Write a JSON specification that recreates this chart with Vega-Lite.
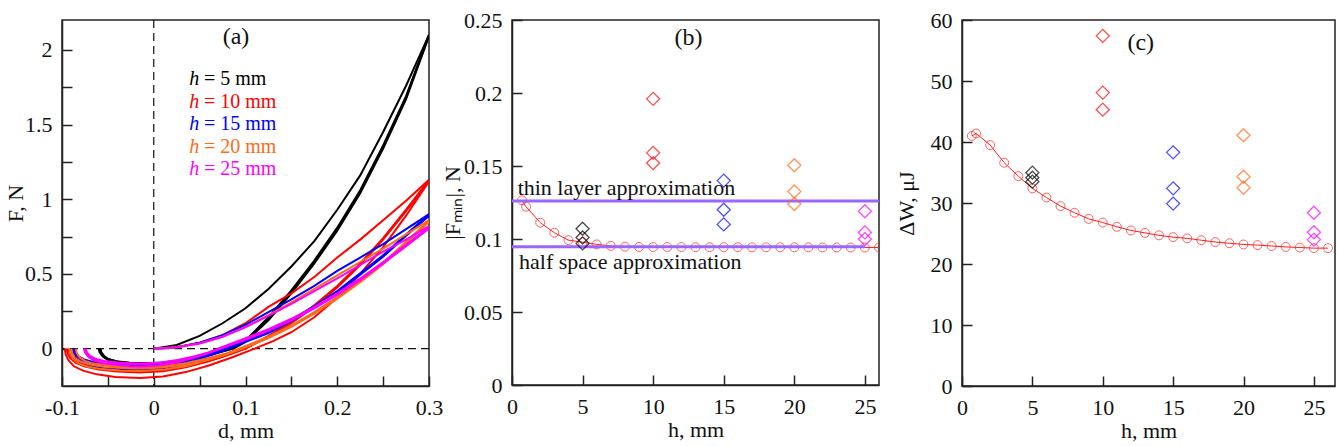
{
  "$schema": "https://vega.github.io/schema/vega-lite/v6.json",
  "background": "white",
  "padding": {"left": 3, "top": 8, "right": 0, "bottom": 0},
  "bounds": "flush",
  "spacing": 83,
  "config": {
    "font": "Liberation Serif",
    "view": {"stroke": "#222", "strokeWidth": 1.5},
    "axis": {
      "labelFont": "Liberation Serif", "labelFontSize": 22, "labelColor": "#111",
      "titleFont": "Liberation Serif", "titleFontSize": 22, "titleFontWeight": "normal", "titleColor": "#111",
      "domainColor": "#222", "domainWidth": 1.5, "tickColor": "#222", "tickWidth": 1.5,
      "tickSize": -10, "labelPadding": 21, "grid": false, "labelFlush": false, "labelOverlap": false
    },
    "axisX": {"titlePadding": 2},
    "axisY": {"labelPadding": 20}
  },
  "datasets": {
    "curves": [
      {"g":5,"id":"5u","d":0,"F":0},{"g":5,"id":"5u","d":0.025,"F":0.025},{"g":5,"id":"5u","d":0.05,"F":0.085},{"g":5,"id":"5u","d":0.075,"F":0.17},{"g":5,"id":"5u","d":0.1,"F":0.27},{"g":5,"id":"5u","d":0.125,"F":0.4},{"g":5,"id":"5u","d":0.15,"F":0.55},{"g":5,"id":"5u","d":0.175,"F":0.72},{"g":5,"id":"5u","d":0.2,"F":0.93},{"g":5,"id":"5u","d":0.225,"F":1.16},{"g":5,"id":"5u","d":0.25,"F":1.45},{"g":5,"id":"5u","d":0.275,"F":1.76},{"g":5,"id":"5u","d":0.3,"F":2.1},
      {"g":5,"id":"5a","d":-0.059,"F":0},{"g":5,"id":"5a","d":-0.058,"F":-0.027},{"g":5,"id":"5a","d":-0.055,"F":-0.054},{"g":5,"id":"5a","d":-0.05,"F":-0.075},{"g":5,"id":"5a","d":-0.04,"F":-0.093},{"g":5,"id":"5a","d":-0.025,"F":-0.104},{"g":5,"id":"5a","d":-0.01,"F":-0.107},{"g":5,"id":"5a","d":0.01,"F":-0.102},{"g":5,"id":"5a","d":0.03,"F":-0.086},{"g":5,"id":"5a","d":0.05,"F":-0.059},{"g":5,"id":"5a","d":0.07,"F":-0.027},{"g":5,"id":"5a","d":0.087,"F":0},{"g":5,"id":"5a","d":0.1,"F":0.045},{"g":5,"id":"5a","d":0.125,"F":0.19},{"g":5,"id":"5a","d":0.15,"F":0.37},{"g":5,"id":"5a","d":0.175,"F":0.57},{"g":5,"id":"5a","d":0.2,"F":0.79},{"g":5,"id":"5a","d":0.225,"F":1.04},{"g":5,"id":"5a","d":0.25,"F":1.34},{"g":5,"id":"5a","d":0.275,"F":1.67},{"g":5,"id":"5a","d":0.3,"F":2.09},
      {"g":5,"id":"5b","d":-0.058,"F":0},{"g":5,"id":"5b","d":-0.057,"F":-0.025},{"g":5,"id":"5b","d":-0.054,"F":-0.05},{"g":5,"id":"5b","d":-0.049,"F":-0.071},{"g":5,"id":"5b","d":-0.039,"F":-0.088},{"g":5,"id":"5b","d":-0.024,"F":-0.098},{"g":5,"id":"5b","d":-0.01,"F":-0.101},{"g":5,"id":"5b","d":0.01,"F":-0.096},{"g":5,"id":"5b","d":0.03,"F":-0.081},{"g":5,"id":"5b","d":0.05,"F":-0.056},{"g":5,"id":"5b","d":0.07,"F":-0.025},{"g":5,"id":"5b","d":0.085,"F":0},{"g":5,"id":"5b","d":0.1,"F":0.05},{"g":5,"id":"5b","d":0.125,"F":0.2},{"g":5,"id":"5b","d":0.15,"F":0.38},{"g":5,"id":"5b","d":0.175,"F":0.58},{"g":5,"id":"5b","d":0.2,"F":0.8},{"g":5,"id":"5b","d":0.225,"F":1.05},{"g":5,"id":"5b","d":0.25,"F":1.35},{"g":5,"id":"5b","d":0.275,"F":1.68},{"g":5,"id":"5b","d":0.3,"F":2.1},
      {"g":5,"id":"5c","d":-0.06,"F":0},{"g":5,"id":"5c","d":-0.059,"F":-0.024},{"g":5,"id":"5c","d":-0.056,"F":-0.049},{"g":5,"id":"5c","d":-0.051,"F":-0.068},{"g":5,"id":"5c","d":-0.041,"F":-0.084},{"g":5,"id":"5c","d":-0.026,"F":-0.094},{"g":5,"id":"5c","d":-0.01,"F":-0.097},{"g":5,"id":"5c","d":0.01,"F":-0.092},{"g":5,"id":"5c","d":0.03,"F":-0.078},{"g":5,"id":"5c","d":0.05,"F":-0.053},{"g":5,"id":"5c","d":0.07,"F":-0.024},{"g":5,"id":"5c","d":0.084,"F":0},{"g":5,"id":"5c","d":0.1,"F":0.055},{"g":5,"id":"5c","d":0.125,"F":0.21},{"g":5,"id":"5c","d":0.15,"F":0.39},{"g":5,"id":"5c","d":0.175,"F":0.59},{"g":5,"id":"5c","d":0.2,"F":0.81},{"g":5,"id":"5c","d":0.225,"F":1.06},{"g":5,"id":"5c","d":0.25,"F":1.36},{"g":5,"id":"5c","d":0.275,"F":1.69},{"g":5,"id":"5c","d":0.3,"F":2.1},
      {"g":10,"id":"10u","d":0,"F":0},{"g":10,"id":"10u","d":0.025,"F":0.01},{"g":10,"id":"10u","d":0.05,"F":0.04},{"g":10,"id":"10u","d":0.075,"F":0.09},{"g":10,"id":"10u","d":0.1,"F":0.17},{"g":10,"id":"10u","d":0.125,"F":0.28},{"g":10,"id":"10u","d":0.15,"F":0.37},{"g":10,"id":"10u","d":0.175,"F":0.48},{"g":10,"id":"10u","d":0.2,"F":0.61},{"g":10,"id":"10u","d":0.225,"F":0.73},{"g":10,"id":"10u","d":0.25,"F":0.86},{"g":10,"id":"10u","d":0.275,"F":0.99},{"g":10,"id":"10u","d":0.3,"F":1.13},
      {"g":10,"id":"10a","d":-0.097,"F":0},{"g":10,"id":"10a","d":-0.096,"F":-0.039},{"g":10,"id":"10a","d":-0.093,"F":-0.078},{"g":10,"id":"10a","d":-0.087,"F":-0.118},{"g":10,"id":"10a","d":-0.077,"F":-0.147},{"g":10,"id":"10a","d":-0.062,"F":-0.172},{"g":10,"id":"10a","d":-0.042,"F":-0.189},{"g":10,"id":"10a","d":-0.015,"F":-0.196},{"g":10,"id":"10a","d":0.01,"F":-0.186},{"g":10,"id":"10a","d":0.035,"F":-0.157},{"g":10,"id":"10a","d":0.06,"F":-0.113},{"g":10,"id":"10a","d":0.085,"F":-0.059},{"g":10,"id":"10a","d":0.11,"F":0},{"g":10,"id":"10a","d":0.13,"F":0.05},{"g":10,"id":"10a","d":0.15,"F":0.11},{"g":10,"id":"10a","d":0.175,"F":0.21},{"g":10,"id":"10a","d":0.2,"F":0.34},{"g":10,"id":"10a","d":0.225,"F":0.5},{"g":10,"id":"10a","d":0.25,"F":0.68},{"g":10,"id":"10a","d":0.275,"F":0.89},{"g":10,"id":"10a","d":0.3,"F":1.12},
      {"g":10,"id":"10b","d":-0.095,"F":0},{"g":10,"id":"10b","d":-0.094,"F":-0.032},{"g":10,"id":"10b","d":-0.091,"F":-0.064},{"g":10,"id":"10b","d":-0.085,"F":-0.095},{"g":10,"id":"10b","d":-0.075,"F":-0.119},{"g":10,"id":"10b","d":-0.06,"F":-0.139},{"g":10,"id":"10b","d":-0.04,"F":-0.153},{"g":10,"id":"10b","d":-0.015,"F":-0.159},{"g":10,"id":"10b","d":0.01,"F":-0.151},{"g":10,"id":"10b","d":0.035,"F":-0.125},{"g":10,"id":"10b","d":0.06,"F":-0.085},{"g":10,"id":"10b","d":0.08,"F":-0.045},{"g":10,"id":"10b","d":0.1,"F":0},{"g":10,"id":"10b","d":0.125,"F":0.08},{"g":10,"id":"10b","d":0.15,"F":0.17},{"g":10,"id":"10b","d":0.175,"F":0.28},{"g":10,"id":"10b","d":0.2,"F":0.41},{"g":10,"id":"10b","d":0.225,"F":0.56},{"g":10,"id":"10b","d":0.25,"F":0.73},{"g":10,"id":"10b","d":0.275,"F":0.92},{"g":10,"id":"10b","d":0.3,"F":1.12},
      {"g":10,"id":"10c","d":-0.093,"F":0},{"g":10,"id":"10c","d":-0.092,"F":-0.03},{"g":10,"id":"10c","d":-0.089,"F":-0.061},{"g":10,"id":"10c","d":-0.083,"F":-0.091},{"g":10,"id":"10c","d":-0.073,"F":-0.114},{"g":10,"id":"10c","d":-0.058,"F":-0.133},{"g":10,"id":"10c","d":-0.038,"F":-0.147},{"g":10,"id":"10c","d":-0.015,"F":-0.152},{"g":10,"id":"10c","d":0.01,"F":-0.144},{"g":10,"id":"10c","d":0.035,"F":-0.12},{"g":10,"id":"10c","d":0.06,"F":-0.081},{"g":10,"id":"10c","d":0.08,"F":-0.043},{"g":10,"id":"10c","d":0.1,"F":0},{"g":10,"id":"10c","d":0.125,"F":0.085},{"g":10,"id":"10c","d":0.15,"F":0.18},{"g":10,"id":"10c","d":0.175,"F":0.29},{"g":10,"id":"10c","d":0.2,"F":0.42},{"g":10,"id":"10c","d":0.225,"F":0.57},{"g":10,"id":"10c","d":0.25,"F":0.74},{"g":10,"id":"10c","d":0.275,"F":0.93},{"g":10,"id":"10c","d":0.3,"F":1.13},
      {"g":15,"id":"15u","d":0,"F":0},{"g":15,"id":"15u","d":0.025,"F":0.01},{"g":15,"id":"15u","d":0.05,"F":0.04},{"g":15,"id":"15u","d":0.075,"F":0.09},{"g":15,"id":"15u","d":0.1,"F":0.16},{"g":15,"id":"15u","d":0.125,"F":0.245},{"g":15,"id":"15u","d":0.15,"F":0.33},{"g":15,"id":"15u","d":0.175,"F":0.42},{"g":15,"id":"15u","d":0.2,"F":0.52},{"g":15,"id":"15u","d":0.225,"F":0.61},{"g":15,"id":"15u","d":0.25,"F":0.7},{"g":15,"id":"15u","d":0.275,"F":0.8},{"g":15,"id":"15u","d":0.3,"F":0.9},
      {"g":15,"id":"15a","d":-0.088,"F":0},{"g":15,"id":"15a","d":-0.087,"F":-0.032},{"g":15,"id":"15a","d":-0.084,"F":-0.065},{"g":15,"id":"15a","d":-0.078,"F":-0.092},{"g":15,"id":"15a","d":-0.068,"F":-0.113},{"g":15,"id":"15a","d":-0.053,"F":-0.129},{"g":15,"id":"15a","d":-0.033,"F":-0.138},{"g":15,"id":"15a","d":-0.013,"F":-0.14},{"g":15,"id":"15a","d":0.01,"F":-0.131},{"g":15,"id":"15a","d":0.03,"F":-0.108},{"g":15,"id":"15a","d":0.05,"F":-0.07},{"g":15,"id":"15a","d":0.065,"F":-0.038},{"g":15,"id":"15a","d":0.082,"F":0},{"g":15,"id":"15a","d":0.1,"F":0.045},{"g":15,"id":"15a","d":0.125,"F":0.105},{"g":15,"id":"15a","d":0.15,"F":0.185},{"g":15,"id":"15a","d":0.175,"F":0.275},{"g":15,"id":"15a","d":0.2,"F":0.375},{"g":15,"id":"15a","d":0.225,"F":0.495},{"g":15,"id":"15a","d":0.25,"F":0.615},{"g":15,"id":"15a","d":0.275,"F":0.755},{"g":15,"id":"15a","d":0.3,"F":0.89},
      {"g":15,"id":"15b","d":-0.087,"F":0},{"g":15,"id":"15b","d":-0.086,"F":-0.028},{"g":15,"id":"15b","d":-0.083,"F":-0.055},{"g":15,"id":"15b","d":-0.077,"F":-0.078},{"g":15,"id":"15b","d":-0.067,"F":-0.097},{"g":15,"id":"15b","d":-0.052,"F":-0.111},{"g":15,"id":"15b","d":-0.032,"F":-0.118},{"g":15,"id":"15b","d":-0.013,"F":-0.12},{"g":15,"id":"15b","d":0.01,"F":-0.113},{"g":15,"id":"15b","d":0.03,"F":-0.092},{"g":15,"id":"15b","d":0.05,"F":-0.06},{"g":15,"id":"15b","d":0.065,"F":-0.032},{"g":15,"id":"15b","d":0.08,"F":0},{"g":15,"id":"15b","d":0.1,"F":0.05},{"g":15,"id":"15b","d":0.125,"F":0.11},{"g":15,"id":"15b","d":0.15,"F":0.19},{"g":15,"id":"15b","d":0.175,"F":0.28},{"g":15,"id":"15b","d":0.2,"F":0.38},{"g":15,"id":"15b","d":0.225,"F":0.5},{"g":15,"id":"15b","d":0.25,"F":0.62},{"g":15,"id":"15b","d":0.275,"F":0.76},{"g":15,"id":"15b","d":0.3,"F":0.89},
      {"g":15,"id":"15c","d":-0.086,"F":0},{"g":15,"id":"15c","d":-0.085,"F":-0.025},{"g":15,"id":"15c","d":-0.082,"F":-0.051},{"g":15,"id":"15c","d":-0.076,"F":-0.072},{"g":15,"id":"15c","d":-0.066,"F":-0.089},{"g":15,"id":"15c","d":-0.051,"F":-0.102},{"g":15,"id":"15c","d":-0.031,"F":-0.108},{"g":15,"id":"15c","d":-0.013,"F":-0.11},{"g":15,"id":"15c","d":0.01,"F":-0.103},{"g":15,"id":"15c","d":0.03,"F":-0.085},{"g":15,"id":"15c","d":0.05,"F":-0.055},{"g":15,"id":"15c","d":0.065,"F":-0.03},{"g":15,"id":"15c","d":0.078,"F":0},{"g":15,"id":"15c","d":0.1,"F":0.055},{"g":15,"id":"15c","d":0.125,"F":0.115},{"g":15,"id":"15c","d":0.15,"F":0.195},{"g":15,"id":"15c","d":0.175,"F":0.285},{"g":15,"id":"15c","d":0.2,"F":0.385},{"g":15,"id":"15c","d":0.225,"F":0.505},{"g":15,"id":"15c","d":0.25,"F":0.625},{"g":15,"id":"15c","d":0.275,"F":0.765},{"g":15,"id":"15c","d":0.3,"F":0.9},
      {"g":20,"id":"20u","d":0,"F":0},{"g":20,"id":"20u","d":0.025,"F":0.01},{"g":20,"id":"20u","d":0.05,"F":0.035},{"g":20,"id":"20u","d":0.075,"F":0.08},{"g":20,"id":"20u","d":0.1,"F":0.145},{"g":20,"id":"20u","d":0.125,"F":0.225},{"g":20,"id":"20u","d":0.15,"F":0.31},{"g":20,"id":"20u","d":0.175,"F":0.4},{"g":20,"id":"20u","d":0.2,"F":0.49},{"g":20,"id":"20u","d":0.225,"F":0.58},{"g":20,"id":"20u","d":0.25,"F":0.67},{"g":20,"id":"20u","d":0.275,"F":0.765},{"g":20,"id":"20u","d":0.3,"F":0.86},
      {"g":20,"id":"20a","d":-0.092,"F":0},{"g":20,"id":"20a","d":-0.091,"F":-0.034},{"g":20,"id":"20a","d":-0.088,"F":-0.069},{"g":20,"id":"20a","d":-0.082,"F":-0.099},{"g":20,"id":"20a","d":-0.072,"F":-0.121},{"g":20,"id":"20a","d":-0.057,"F":-0.137},{"g":20,"id":"20a","d":-0.037,"F":-0.147},{"g":20,"id":"20a","d":-0.015,"F":-0.15},{"g":20,"id":"20a","d":0.01,"F":-0.142},{"g":20,"id":"20a","d":0.035,"F":-0.118},{"g":20,"id":"20a","d":0.06,"F":-0.075},{"g":20,"id":"20a","d":0.08,"F":-0.037},{"g":20,"id":"20a","d":0.097,"F":0},{"g":20,"id":"20a","d":0.125,"F":0.07},{"g":20,"id":"20a","d":0.15,"F":0.145},{"g":20,"id":"20a","d":0.175,"F":0.235},{"g":20,"id":"20a","d":0.2,"F":0.335},{"g":20,"id":"20a","d":0.225,"F":0.445},{"g":20,"id":"20a","d":0.25,"F":0.565},{"g":20,"id":"20a","d":0.275,"F":0.705},{"g":20,"id":"20a","d":0.3,"F":0.85},
      {"g":20,"id":"20b","d":-0.09,"F":0},{"g":20,"id":"20b","d":-0.089,"F":-0.03},{"g":20,"id":"20b","d":-0.086,"F":-0.061},{"g":20,"id":"20b","d":-0.08,"F":-0.087},{"g":20,"id":"20b","d":-0.07,"F":-0.107},{"g":20,"id":"20b","d":-0.055,"F":-0.122},{"g":20,"id":"20b","d":-0.035,"F":-0.13},{"g":20,"id":"20b","d":-0.015,"F":-0.133},{"g":20,"id":"20b","d":0.01,"F":-0.126},{"g":20,"id":"20b","d":0.035,"F":-0.105},{"g":20,"id":"20b","d":0.06,"F":-0.067},{"g":20,"id":"20b","d":0.08,"F":-0.033},{"g":20,"id":"20b","d":0.095,"F":0},{"g":20,"id":"20b","d":0.125,"F":0.075},{"g":20,"id":"20b","d":0.15,"F":0.15},{"g":20,"id":"20b","d":0.175,"F":0.24},{"g":20,"id":"20b","d":0.2,"F":0.34},{"g":20,"id":"20b","d":0.225,"F":0.45},{"g":20,"id":"20b","d":0.25,"F":0.57},{"g":20,"id":"20b","d":0.275,"F":0.71},{"g":20,"id":"20b","d":0.3,"F":0.85},
      {"g":20,"id":"20c","d":-0.085,"F":0},{"g":20,"id":"20c","d":-0.084,"F":-0.028},{"g":20,"id":"20c","d":-0.081,"F":-0.057},{"g":20,"id":"20c","d":-0.075,"F":-0.082},{"g":20,"id":"20c","d":-0.065,"F":-0.1},{"g":20,"id":"20c","d":-0.05,"F":-0.113},{"g":20,"id":"20c","d":-0.03,"F":-0.121},{"g":20,"id":"20c","d":-0.013,"F":-0.124},{"g":20,"id":"20c","d":0.01,"F":-0.118},{"g":20,"id":"20c","d":0.035,"F":-0.097},{"g":20,"id":"20c","d":0.06,"F":-0.062},{"g":20,"id":"20c","d":0.08,"F":-0.031},{"g":20,"id":"20c","d":0.093,"F":0},{"g":20,"id":"20c","d":0.125,"F":0.08},{"g":20,"id":"20c","d":0.15,"F":0.155},{"g":20,"id":"20c","d":0.175,"F":0.245},{"g":20,"id":"20c","d":0.2,"F":0.345},{"g":20,"id":"20c","d":0.225,"F":0.455},{"g":20,"id":"20c","d":0.25,"F":0.575},{"g":20,"id":"20c","d":0.275,"F":0.715},{"g":20,"id":"20c","d":0.3,"F":0.86},
      {"g":25,"id":"25u","d":0,"F":0},{"g":25,"id":"25u","d":0.025,"F":0.01},{"g":25,"id":"25u","d":0.05,"F":0.035},{"g":25,"id":"25u","d":0.075,"F":0.08},{"g":25,"id":"25u","d":0.1,"F":0.145},{"g":25,"id":"25u","d":0.125,"F":0.22},{"g":25,"id":"25u","d":0.15,"F":0.3},{"g":25,"id":"25u","d":0.175,"F":0.385},{"g":25,"id":"25u","d":0.2,"F":0.47},{"g":25,"id":"25u","d":0.225,"F":0.56},{"g":25,"id":"25u","d":0.25,"F":0.65},{"g":25,"id":"25u","d":0.275,"F":0.73},{"g":25,"id":"25u","d":0.3,"F":0.82},
      {"g":25,"id":"25a","d":-0.075,"F":0},{"g":25,"id":"25a","d":-0.074,"F":-0.028},{"g":25,"id":"25a","d":-0.071,"F":-0.056},{"g":25,"id":"25a","d":-0.065,"F":-0.08},{"g":25,"id":"25a","d":-0.055,"F":-0.097},{"g":25,"id":"25a","d":-0.04,"F":-0.11},{"g":25,"id":"25a","d":-0.025,"F":-0.117},{"g":25,"id":"25a","d":-0.015,"F":-0.119},{"g":25,"id":"25a","d":0.005,"F":-0.113},{"g":25,"id":"25a","d":0.025,"F":-0.092},{"g":25,"id":"25a","d":0.045,"F":-0.06},{"g":25,"id":"25a","d":0.06,"F":-0.03},{"g":25,"id":"25a","d":0.073,"F":0},{"g":25,"id":"25a","d":0.1,"F":0.06},{"g":25,"id":"25a","d":0.125,"F":0.12},{"g":25,"id":"25a","d":0.15,"F":0.19},{"g":25,"id":"25a","d":0.175,"F":0.27},{"g":25,"id":"25a","d":0.2,"F":0.36},{"g":25,"id":"25a","d":0.225,"F":0.46},{"g":25,"id":"25a","d":0.25,"F":0.57},{"g":25,"id":"25a","d":0.275,"F":0.685},{"g":25,"id":"25a","d":0.3,"F":0.805},
      {"g":25,"id":"25b","d":-0.076,"F":0},{"g":25,"id":"25b","d":-0.075,"F":-0.025},{"g":25,"id":"25b","d":-0.072,"F":-0.049},{"g":25,"id":"25b","d":-0.066,"F":-0.07},{"g":25,"id":"25b","d":-0.056,"F":-0.085},{"g":25,"id":"25b","d":-0.041,"F":-0.096},{"g":25,"id":"25b","d":-0.026,"F":-0.102},{"g":25,"id":"25b","d":-0.015,"F":-0.104},{"g":25,"id":"25b","d":0.005,"F":-0.098},{"g":25,"id":"25b","d":0.025,"F":-0.08},{"g":25,"id":"25b","d":0.045,"F":-0.052},{"g":25,"id":"25b","d":0.06,"F":-0.026},{"g":25,"id":"25b","d":0.071,"F":0},{"g":25,"id":"25b","d":0.1,"F":0.065},{"g":25,"id":"25b","d":0.125,"F":0.125},{"g":25,"id":"25b","d":0.15,"F":0.195},{"g":25,"id":"25b","d":0.175,"F":0.275},{"g":25,"id":"25b","d":0.2,"F":0.365},{"g":25,"id":"25b","d":0.225,"F":0.465},{"g":25,"id":"25b","d":0.25,"F":0.575},{"g":25,"id":"25b","d":0.275,"F":0.69},{"g":25,"id":"25b","d":0.3,"F":0.81},
      {"g":25,"id":"25c","d":-0.074,"F":0},{"g":25,"id":"25c","d":-0.073,"F":-0.024},{"g":25,"id":"25c","d":-0.07,"F":-0.047},{"g":25,"id":"25c","d":-0.064,"F":-0.067},{"g":25,"id":"25c","d":-0.054,"F":-0.082},{"g":25,"id":"25c","d":-0.039,"F":-0.093},{"g":25,"id":"25c","d":-0.024,"F":-0.098},{"g":25,"id":"25c","d":-0.015,"F":-0.1},{"g":25,"id":"25c","d":0.005,"F":-0.095},{"g":25,"id":"25c","d":0.025,"F":-0.077},{"g":25,"id":"25c","d":0.045,"F":-0.05},{"g":25,"id":"25c","d":0.06,"F":-0.025},{"g":25,"id":"25c","d":0.07,"F":0},{"g":25,"id":"25c","d":0.1,"F":0.07},{"g":25,"id":"25c","d":0.125,"F":0.13},{"g":25,"id":"25c","d":0.15,"F":0.2},{"g":25,"id":"25c","d":0.175,"F":0.28},{"g":25,"id":"25c","d":0.2,"F":0.37},{"g":25,"id":"25c","d":0.225,"F":0.47},{"g":25,"id":"25c","d":0.25,"F":0.58},{"g":25,"id":"25c","d":0.275,"F":0.695},{"g":25,"id":"25c","d":0.3,"F":0.815}
    ],
    "model": [
      {"h":0.7,"Fmin":0.1265,"dW":41.0},{"h":1,"Fmin":0.1221,"dW":41.4},{"h":2,"Fmin":0.1112,"dW":39.5},{"h":3,"Fmin":0.1043,"dW":36.6},{"h":4,"Fmin":0.0992,"dW":34.4},{"h":5,"Fmin":0.0978,"dW":32.4},{"h":6,"Fmin":0.0963,"dW":30.9},{"h":7,"Fmin":0.0953,"dW":29.5},{"h":8,"Fmin":0.0948,"dW":28.4},{"h":9,"Fmin":0.0946,"dW":27.4},{"h":10,"Fmin":0.0945,"dW":26.8},{"h":11,"Fmin":0.0945,"dW":26.1},{"h":12,"Fmin":0.0945,"dW":25.5},{"h":13,"Fmin":0.0944,"dW":25.1},{"h":14,"Fmin":0.0944,"dW":24.7},{"h":15,"Fmin":0.0944,"dW":24.4},{"h":16,"Fmin":0.0944,"dW":24.2},{"h":17,"Fmin":0.0943,"dW":23.9},{"h":18,"Fmin":0.0943,"dW":23.6},{"h":19,"Fmin":0.0943,"dW":23.4},{"h":20,"Fmin":0.0943,"dW":23.2},{"h":21,"Fmin":0.0943,"dW":23.1},{"h":22,"Fmin":0.0942,"dW":22.95},{"h":23,"Fmin":0.0942,"dW":22.8},{"h":24,"Fmin":0.0942,"dW":22.7},{"h":25,"Fmin":0.0942,"dW":22.6},{"h":26,"Fmin":0.0942,"dW":22.6}
    ],
    "exp": [
      {"g":5,"h":5,"Fmin":0.107,"dW":34.97},{"g":5,"h":5,"Fmin":0.101,"dW":34.15},{"g":5,"h":5,"Fmin":0.097,"dW":33.5},
      {"g":10,"h":10,"Fmin":0.196,"dW":57.4},{"g":10,"h":10,"Fmin":0.159,"dW":48.1},{"g":10,"h":10,"Fmin":0.152,"dW":45.3},
      {"g":15,"h":15,"Fmin":0.14,"dW":38.3},{"g":15,"h":15,"Fmin":0.12,"dW":32.4},{"g":15,"h":15,"Fmin":0.11,"dW":29.9},
      {"g":20,"h":20,"Fmin":0.1505,"dW":41.1},{"g":20,"h":20,"Fmin":0.1325,"dW":34.3},{"g":20,"h":20,"Fmin":0.124,"dW":32.5},
      {"g":25,"h":25,"Fmin":0.119,"dW":28.4},{"g":25,"h":25,"Fmin":0.1045,"dW":25.2},{"g":25,"h":25,"Fmin":0.1,"dW":24.0}
    ],
    "approx": [
      {"name":"thin layer approximation","Fmin":0.1261,"h0":0,"h1":26},
      {"name":"half space approximation","Fmin":0.0947,"h0":0,"h1":25}
    ]
  },
  "hconcat": [
    {
      "width": 367, "height": 366,
      "layer": [
        {
          "data": {"values": [{}]},
          "mark": {"type": "rule", "strokeDash": [8, 5], "color": "#111", "strokeWidth": 1.2},
          "encoding": {"x": {"datum": 0, "type": "quantitative"}}
        },
        {
          "data": {"values": [{}]},
          "mark": {"type": "rule", "strokeDash": [8, 5], "color": "#111", "strokeWidth": 1.2},
          "encoding": {"y": {"datum": 0, "type": "quantitative"}}
        },
        {
          "data": {"name": "curves"},
          "mark": {"type": "line", "strokeWidth": 2, "clip": true},
          "encoding": {
            "x": {"field": "d", "type": "quantitative", "title": "d, mm",
                  "scale": {"domain": [-0.1, 0.3], "nice": false, "zero": false},
                  "axis": {"values": [-0.1,-0.05,0,0.05,0.1,0.15,0.2,0.25,0.3],
                           "labelExpr": "abs(round(datum.value*100)) % 10 == 0 ? replace(format(datum.value, '~g'), '−', '-') : ''"}},
            "y": {"field": "F", "type": "quantitative", "title": "F, N",
                  "scale": {"domain": [-0.25, 2.2], "nice": false, "zero": false},
                  "axis": {"values": [0,0.25,0.5,0.75,1,1.25,1.5,1.75,2],
                           "labelExpr": "round(datum.value*100) % 50 == 0 ? format(datum.value, '~g') : ''",
                           "titlePadding": -3}},
            "color": {"field": "g", "type": "nominal", "legend": null,
                      "scale": {"domain": [5,10,15,20,25], "range": ["#000000","#FF0000","#0000FF","#FF6A1A","#FF00FF"]}},
            "detail": {"field": "id"}
          }
        },
        {
          "data": {"values": [{}]},
          "mark": {"type": "text", "fontSize": 24, "color": "#111"},
          "encoding": {"x": {"datum": 0.0896}, "y": {"datum": 2.083}, "text": {"value": "(a)"}}
        },
        {"data": {"values": [{}]}, "mark": {"type": "text", "align": "left", "baseline": "alphabetic", "fontSize": 20, "fontStyle": "italic", "color": "#000000"}, "encoding": {"x": {"datum": 0.0388}, "y": {"datum": 1.763}, "text": {"value": "h"}}},
        {"data": {"values": [{}]}, "mark": {"type": "text", "align": "left", "baseline": "alphabetic", "fontSize": 20, "color": "#000000"}, "encoding": {"x": {"datum": 0.0548}, "y": {"datum": 1.763}, "text": {"value": "= 5 mm"}}},
        {"data": {"values": [{}]}, "mark": {"type": "text", "align": "left", "baseline": "alphabetic", "fontSize": 20, "fontStyle": "italic", "color": "#FF0000"}, "encoding": {"x": {"datum": 0.0388}, "y": {"datum": 1.613}, "text": {"value": "h"}}},
        {"data": {"values": [{}]}, "mark": {"type": "text", "align": "left", "baseline": "alphabetic", "fontSize": 20, "color": "#FF0000"}, "encoding": {"x": {"datum": 0.0548}, "y": {"datum": 1.613}, "text": {"value": "= 10 mm"}}},
        {"data": {"values": [{}]}, "mark": {"type": "text", "align": "left", "baseline": "alphabetic", "fontSize": 20, "fontStyle": "italic", "color": "#0000FF"}, "encoding": {"x": {"datum": 0.0388}, "y": {"datum": 1.463}, "text": {"value": "h"}}},
        {"data": {"values": [{}]}, "mark": {"type": "text", "align": "left", "baseline": "alphabetic", "fontSize": 20, "color": "#0000FF"}, "encoding": {"x": {"datum": 0.0548}, "y": {"datum": 1.463}, "text": {"value": "= 15 mm"}}},
        {"data": {"values": [{}]}, "mark": {"type": "text", "align": "left", "baseline": "alphabetic", "fontSize": 20, "fontStyle": "italic", "color": "#FF6A1A"}, "encoding": {"x": {"datum": 0.0388}, "y": {"datum": 1.313}, "text": {"value": "h"}}},
        {"data": {"values": [{}]}, "mark": {"type": "text", "align": "left", "baseline": "alphabetic", "fontSize": 20, "color": "#FF6A1A"}, "encoding": {"x": {"datum": 0.0548}, "y": {"datum": 1.313}, "text": {"value": "= 20 mm"}}},
        {"data": {"values": [{}]}, "mark": {"type": "text", "align": "left", "baseline": "alphabetic", "fontSize": 20, "fontStyle": "italic", "color": "#FF00FF"}, "encoding": {"x": {"datum": 0.0388}, "y": {"datum": 1.163}, "text": {"value": "h"}}},
        {"data": {"values": [{}]}, "mark": {"type": "text", "align": "left", "baseline": "alphabetic", "fontSize": 20, "color": "#FF00FF"}, "encoding": {"x": {"datum": 0.0548}, "y": {"datum": 1.163}, "text": {"value": "= 25 mm"}}}
      ]
    },
    {
      "width": 367, "height": 365,
      "layer": [
        {
          "data": {"name": "model"},
          "mark": {"type": "line", "color": "#FF2020", "strokeWidth": 1, "clip": true},
          "encoding": {
            "x": {"field": "h", "type": "quantitative", "title": "h, mm",
                  "scale": {"domain": [0, 26], "nice": false},
                  "axis": {"values": [0,2.5,5,7.5,10,12.5,15,17.5,20,22.5,25],
                           "labelExpr": "datum.value % 5 == 0 ? format(datum.value, 'd') : ''"}},
            "y": {"field": "Fmin", "type": "quantitative", "title": "|Fₘᵢₙ|, N",
                  "scale": {"domain": [0, 0.25], "nice": false},
                  "axis": {"values": [0,0.025,0.05,0.075,0.1,0.125,0.15,0.175,0.2,0.225,0.25],
                           "labelExpr": "round(datum.value*1000) % 50 == 0 ? format(datum.value, '~g') : ''",
                           "titlePadding": -1}}
          }
        },
        {
          "data": {"name": "model"},
          "mark": {"type": "point", "shape": "circle", "filled": false, "color": "#FF2020", "size": 80, "strokeWidth": 1, "clip": true},
          "encoding": {"x": {"field": "h", "type": "quantitative"}, "y": {"field": "Fmin", "type": "quantitative"}}
        },
        {
          "data": {"name": "approx"},
          "mark": {"type": "rule", "color": "#9966FF", "strokeWidth": 3},
          "encoding": {"x": {"field": "h0", "type": "quantitative"}, "x2": {"field": "h1"}, "y": {"field": "Fmin", "type": "quantitative"}}
        },
        {
          "data": {"name": "exp"},
          "mark": {"type": "point", "shape": "diamond", "filled": false, "size": 170, "strokeWidth": 1.3},
          "encoding": {
            "x": {"field": "h", "type": "quantitative"}, "y": {"field": "Fmin", "type": "quantitative"},
            "color": {"field": "g", "type": "nominal", "legend": null,
                      "scale": {"domain": [5,10,15,20,25], "range": ["#000000","#FF0000","#0000FF","#FF6A1A","#FF00FF"]}}
          }
        },
        {
          "data": {"values": [{}]},
          "mark": {"type": "text", "align": "left", "baseline": "alphabetic", "fontSize": 22, "color": "#111"},
          "encoding": {"x": {"datum": 0.4}, "y": {"datum": 0.1302}, "text": {"value": "thin layer approximation"}}
        },
        {
          "data": {"values": [{}]},
          "mark": {"type": "text", "align": "left", "baseline": "alphabetic", "fontSize": 22, "color": "#111"},
          "encoding": {"x": {"datum": 0.5}, "y": {"datum": 0.0794}, "text": {"value": "half space approximation"}}
        },
        {
          "data": {"values": [{}]},
          "mark": {"type": "text", "fontSize": 24, "color": "#111"},
          "encoding": {"x": {"datum": 12.5}, "y": {"datum": 0.2375}, "text": {"value": "(b)"}}
        }
      ]
    },
    {
      "width": 373, "height": 366,
      "layer": [
        {
          "data": {"name": "model"},
          "mark": {"type": "line", "color": "#FF2020", "strokeWidth": 1, "clip": true},
          "encoding": {
            "x": {"field": "h", "type": "quantitative", "title": "h, mm",
                  "scale": {"domain": [0, 26.5], "nice": false},
                  "axis": {"values": [0,2.5,5,7.5,10,12.5,15,17.5,20,22.5,25],
                           "labelExpr": "datum.value % 5 == 0 ? format(datum.value, 'd') : ''"}},
            "y": {"field": "dW", "type": "quantitative", "title": "ΔW, μJ",
                  "scale": {"domain": [0, 60], "nice": false},
                  "axis": {"values": [0,5,10,15,20,25,30,35,40,45,50,55,60],
                           "labelExpr": "datum.value % 10 == 0 ? format(datum.value, 'd') : ''",
                           "titlePadding": 12}}
          }
        },
        {
          "data": {"name": "model"},
          "mark": {"type": "point", "shape": "circle", "filled": false, "color": "#FF2020", "size": 80, "strokeWidth": 1, "clip": true},
          "encoding": {"x": {"field": "h", "type": "quantitative"}, "y": {"field": "dW", "type": "quantitative"}}
        },
        {
          "data": {"name": "exp"},
          "mark": {"type": "point", "shape": "diamond", "filled": false, "size": 170, "strokeWidth": 1.3},
          "encoding": {
            "x": {"field": "h", "type": "quantitative"}, "y": {"field": "dW", "type": "quantitative"},
            "color": {"field": "g", "type": "nominal", "legend": null,
                      "scale": {"domain": [5,10,15,20,25], "range": ["#000000","#FF0000","#0000FF","#FF6A1A","#FF00FF"]}}
          }
        },
        {
          "data": {"values": [{}]},
          "mark": {"type": "text", "fontSize": 24, "color": "#111"},
          "encoding": {"x": {"datum": 12.7}, "y": {"datum": 56.3}, "text": {"value": "(c)"}}
        }
      ]
    }
  ]
}
